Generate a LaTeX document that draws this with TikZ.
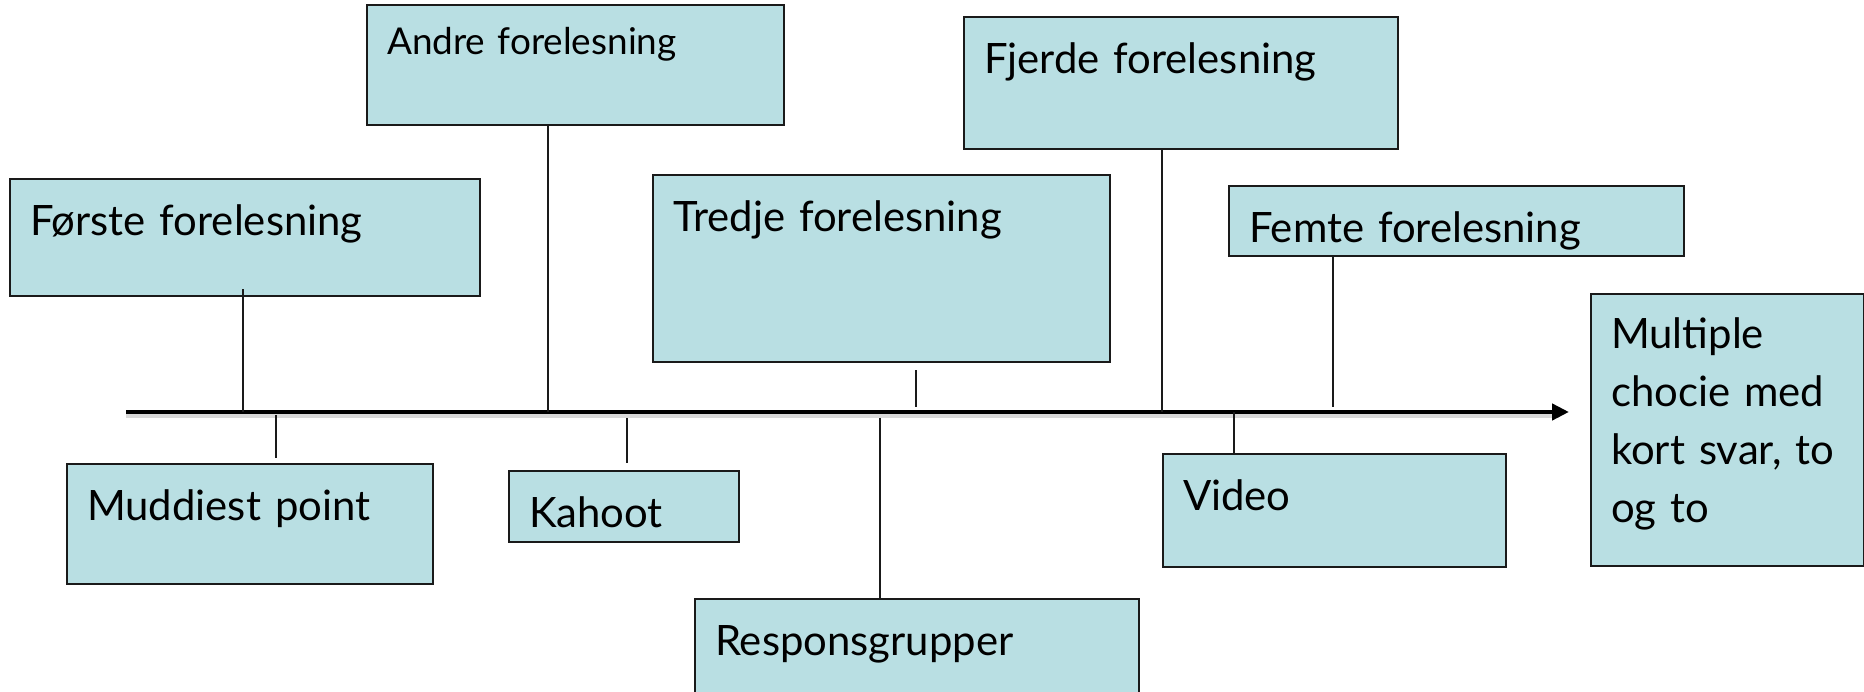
\documentclass[tikz,border=0pt]{standalone}
\usepackage{fontspec}
\setmainfont{Lato}
\usepackage{xcolor}
\definecolor{lineDark}{HTML}{1A1A1A}
\definecolor{boxTeal}{HTML}{B9DFE3}
\usepackage{tikz}
\usetikzlibrary{arrows.meta,positioning,calc}
\tikzset{%
  lectureBox/.style={%
    rectangle,
    draw=lineDark,
    fill=boxTeal,
    line width=0.6pt,
    anchor=north west,
    inner xsep=0.2cm,
    inner ysep=0pt,
    text height=0.56cm,
    align=left,
    font=\fontsize{11.9}{16.5}\selectfont
  },
  timeAxis/.style={%
    -{Triangle[length=0.17cm,width=0.16cm]},
    line width=0.045cm,
    color=black
  },
  axisShadow/.style={%
    line width=0.05cm,
    color=black!15
  },
  tickLine/.style={%
    line width=0.016cm,
    color=lineDark
  }
}

\begin{document}
\begin{tikzpicture}[x=0.01cm,y=-0.01cm]
            \clip (0,0) rectangle (1864,692);

            \coordinate (axisStart) at (126,412);
            \coordinate (axisEnd) at (1569,412);
            \draw[axisShadow] ([yshift=-0.04cm]axisStart) -- ([yshift=-0.04cm,xshift=-0.1cm]axisEnd);
            \draw[timeAxis] (axisStart) -- (axisEnd);

            \node[lectureBox, minimum width=4.70cm, text width=4.30cm, text depth=0.61cm] (forste) at (9,178) {Første forelesning};
            \node[lectureBox, minimum width=4.17cm, text width=3.77cm, text height=0.49cm, text depth=0.71cm, font=\fontsize{10.5}{14}\selectfont] (andre) at (366,4) {Andre forelesning};
            \node[lectureBox, minimum width=4.57cm, text width=4.17cm, text depth=1.31cm] (tredje) at (652,174) {Tredje forelesning};
            \node[lectureBox, minimum width=4.34cm, text width=3.94cm, text depth=0.76cm] (fjerde) at (963,16) {Fjerde forelesning};
            \node[lectureBox, minimum width=4.55cm, text width=4.15cm, text depth=0.14cm] (femte) at (1228,185) {Femte forelesning};
            \node[lectureBox, minimum width=2.73cm, text width=2.33cm, text height=0.54cm, text depth=2.18cm] (mcq) at (1590,293) {Multiple\\ chocie med\\ kort svar, to\\ og to};

            \node[lectureBox, minimum width=3.66cm, text width=3.26cm, text depth=0.64cm] (muddiest) at (66,463) {Muddiest point};
            \node[lectureBox, minimum width=2.30cm, text width=1.90cm, text depth=0.15cm] (kahoot) at (508,470) {Kahoot};
            \node[lectureBox, minimum width=4.44cm, text width=4.04cm, text depth=0.44cm] (respons) at (694,598) {Responsgrupper};
            \node[lectureBox, minimum width=3.43cm, text width=3.03cm, text depth=0.57cm] (video) at (1162,453) {Video};

            \coordinate (tForste) at (243,412);
            \coordinate (tMuddiest) at (276,412);
            \coordinate (tAndre) at (548,412);
            \coordinate (tKahoot) at (627,412);
            \coordinate (tRespons) at (880,412);
            \coordinate (tTredje) at (916,412);
            \coordinate (tFjerde) at (1162,412);
            \coordinate (tVideo) at (1234,412);
            \coordinate (tFemte) at (1333,412);

            \draw[tickLine] ([yshift=0.08cm]forste.south -| tForste) -- (tForste);
            \draw[tickLine] ([yshift=-0.03cm]tMuddiest) -- ([yshift=0.05cm]muddiest.north -| tMuddiest);
            \draw[tickLine] (andre.south -| tAndre) -- (tAndre);
            \draw[tickLine] ([yshift=-0.06cm]tKahoot) -- ([yshift=0.07cm]kahoot.north -| tKahoot);
            \draw[tickLine] ([yshift=-0.06cm]tRespons) -- (respons.north -| tRespons);
            \draw[tickLine] ([yshift=-0.07cm]tredje.south -| tTredje) -- ([yshift=0.05cm]tTredje);
            \draw[tickLine] (fjerde.south -| tFjerde) -- (tFjerde);
            \draw[tickLine] (tVideo) -- (video.north -| tVideo);
            \draw[tickLine] (femte.south -| tFemte) -- ([yshift=0.05cm]tFemte);
        \end{tikzpicture}
\end{document}
